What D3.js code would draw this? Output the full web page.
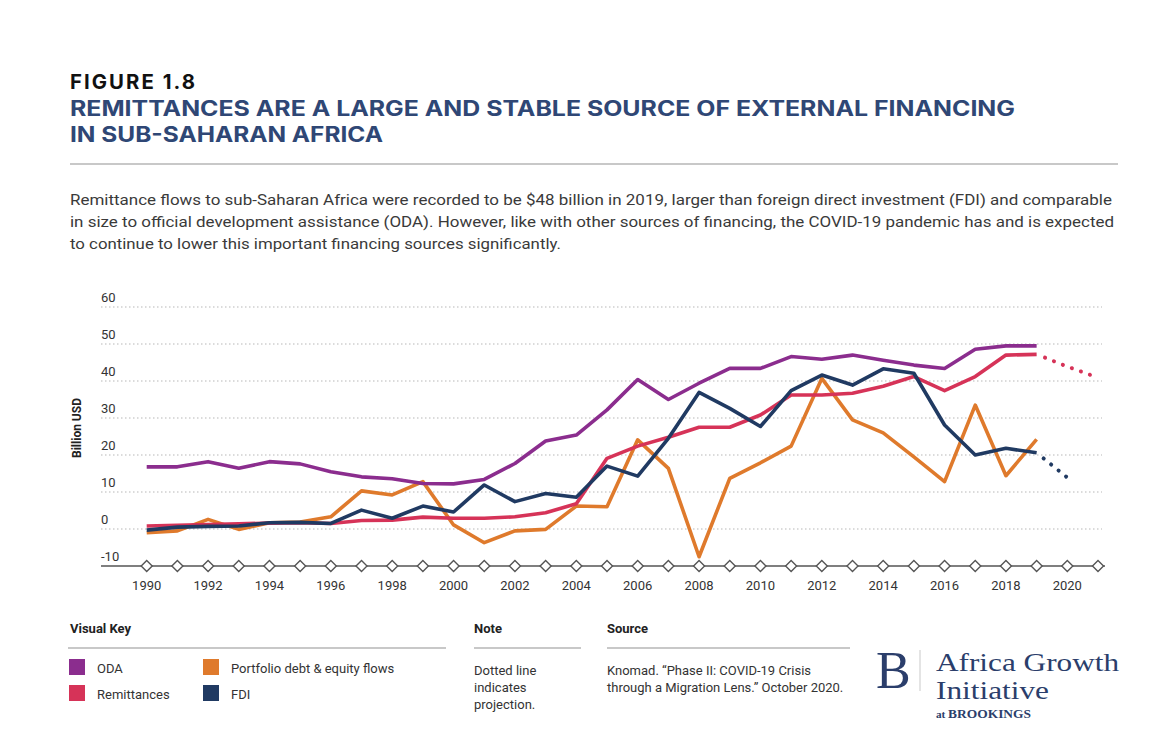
<!DOCTYPE html>
<html>
<head>
<meta charset="utf-8">
<script src="https://cdn.jsdelivr.net/npm/d3@7"></script>
<style>
  body { margin: 0; background: #fff; }
  svg { display: block; }
  text { font-family: Roboto, "Noto Sans", sans-serif; }
</style>
</head>
<body>
<div id="chart"></div>
<script>
// values (billion USD)
var years = [1990, 1991, 1992, 1993, 1994, 1995, 1996, 1997, 1998, 1999,
  2000, 2001, 2002, 2003, 2004, 2005, 2006, 2007, 2008, 2009,
  2010, 2011, 2012, 2013, 2014, 2015, 2016, 2017, 2018, 2019];
var axisYears = [1990, 1991, 1992, 1993, 1994, 1995, 1996, 1997, 1998, 1999,
  2000, 2001, 2002, 2003, 2004, 2005, 2006, 2007, 2008, 2009,
  2010, 2011, 2012, 2013, 2014, 2015, 2016, 2017, 2018, 2019, 2020, 2021];
var tickYears = [1990, 1992, 1994, 1996, 1998, 2000, 2002, 2004, 2006, 2008,
  2010, 2012, 2014, 2016, 2018, 2020];
var yTicks = [-10, 0, 10, 20, 30, 40, 50, 60];

var oda = [16.8, 16.8, 18.2, 16.4, 18.2, 17.6, 15.5, 14.1, 13.6, 12.3,
  12.2, 13.4, 17.7, 23.8, 25.4, 32.2, 40.4, 35.0, 39.4, 43.4,
  43.4, 46.6, 45.9, 47.0, 45.6, 44.3, 43.4, 48.6, 49.5, 49.5];
var remittances = [0.8, 1.0, 1.2, 1.4, 1.6, 1.7, 1.5, 2.3, 2.4, 3.2,
  2.9, 2.9, 3.3, 4.4, 6.8, 19.1, 22.4, 24.8, 27.5, 27.5,
  30.8, 36.2, 36.2, 36.7, 38.6, 41.2, 37.4, 41.2, 47.0, 47.2];
var portfolio = [-1.0, -0.5, 2.6, -0.1, 1.7, 1.9, 3.3, 10.3, 9.2, 12.8,
  1.1, -3.7, -0.5, -0.1, 6.2, 6.0, 24.1, 16.4, -7.5, 13.7,
  17.9, 22.4, 40.7, 29.5, 26.0, 19.5, 12.8, 33.5, 14.4, 24.2];
var fdi = [-0.3, 0.5, 0.7, 0.8, 1.7, 1.8, 1.5, 5.1, 2.9, 6.2,
  4.6, 11.9, 7.4, 9.6, 8.6, 17.0, 14.3, 24.5, 36.9, 32.6,
  27.7, 37.4, 41.6, 38.9, 43.3, 42.1, 28.1, 20.0, 21.8, 20.6];

// projections (dotted)
var remitProjYears = [2019, 2020, 2021];
var remitProj = [47.2, 43.9, 40.9];
var fdiProjYears = [2019, 2020];
var fdiProj = [20.6, 13.9];

var colors = { "ODA": "#8b2d8e", "Remittances": "#d63358", "Portfolio debt & equity flows": "#df7a2c", "FDI": "#203a62" };

var width = 1172, height = 754;
var svg = d3.select("#chart").append("svg").attr("width", width).attr("height", height);

function addText(x, y, str, opts) {
  var t = svg.append("text").attr("x", x).attr("y", y).text(str)
    .attr("font-size", opts.size || 13)
    .attr("fill", opts.fill || "#333")
    .attr("font-weight", opts.weight || 400);
  if (opts.family) t.style("font-family", opts.family);
  if (opts.len) t.attr("textLength", opts.len).attr("lengthAdjust", "spacingAndGlyphs");
  if (opts.ls) t.attr("letter-spacing", opts.ls);
  if (opts.anchor) t.attr("text-anchor", opts.anchor);
  return t;
}

// header
addText(70, 89, "FIGURE 1.8", { size: 20, weight: 700, fill: "#111", len: 127, ls: 2, family: "Inter, Roboto, sans-serif" });
addText(70, 116, "REMITTANCES ARE A LARGE AND STABLE SOURCE OF EXTERNAL FINANCING", { size: 21, weight: 700, fill: "#2f4775", len: 945, family: "Inter, Roboto, sans-serif" });
addText(70, 142, "IN SUB-SAHARAN AFRICA", { size: 21, weight: 700, fill: "#2f4775", len: 313, family: "Inter, Roboto, sans-serif" });

svg.append("line").attr("x1", 70).attr("x2", 1118).attr("y1", 164).attr("y2", 164)
  .attr("stroke", "#c8c8c8").attr("stroke-width", 2);

addText(70, 205, "Remittance flows to sub-Saharan Africa were recorded to be $48 billion in 2019, larger than foreign direct investment (FDI) and comparable", { size: 15.5, fill: "#3a3a3a", len: 1042 });
addText(70, 227, "in size to official development assistance (ODA). However, like with other sources of financing, the COVID-19 pandemic has and is expected", { size: 15.5, fill: "#3a3a3a", len: 1044 });
addText(70, 249, "to continue to lower this important financing sources significantly.", { size: 15.5, fill: "#3a3a3a", len: 491 });

// scales
var x = d3.scaleLinear().domain([1990, 2021]).range([146.7, 1098]);
var y = d3.scaleLinear().domain([-10, 60]).range([566, 307]);

// gridlines
svg.append("g").selectAll("line").data(yTicks.filter(function (d) { return d > -10; }))
  .join("line")
  .attr("x1", 101).attr("x2", 1102)
  .attr("y1", function (d) { return y(d); }).attr("y2", function (d) { return y(d); })
  .attr("stroke", "#cfcfcf").attr("stroke-width", 1.3).attr("stroke-dasharray", "1.5 2.5");

// y labels sit above their gridline
svg.append("g").selectAll("text").data(yTicks).join("text")
  .attr("x", 101).attr("y", function (d) { return y(d) - 5; })
  .attr("font-size", 13).attr("fill", "#333")
  .text(function (d) { return d; });

addText(0, 0, "Billion USD", { size: 12, weight: 700, fill: "#222", anchor: "middle" })
  .attr("transform", "translate(81,428) rotate(-90)");

// x axis with diamond markers
svg.append("line").attr("x1", 101).attr("x2", 1105).attr("y1", y(-10)).attr("y2", y(-10))
  .attr("stroke", "#555").attr("stroke-width", 1.4);
svg.append("g").selectAll("path").data(axisYears).join("path")
  .attr("d", "M0,-5.5L5.5,0L0,5.5L-5.5,0Z")
  .attr("transform", function (d) { return "translate(" + x(d) + "," + y(-10) + ")"; })
  .attr("fill", "#fff").attr("stroke", "#555").attr("stroke-width", 1.4);
svg.append("g").selectAll("text").data(tickYears).join("text")
  .attr("x", function (d) { return x(d); }).attr("y", 590)
  .attr("text-anchor", "middle").attr("font-size", 13).attr("fill", "#333")
  .text(function (d) { return d; });

// lines
var line = d3.line().x(function (d) { return x(d[0]); }).y(function (d) { return y(d[1]); });
var series = [
  { name: "Portfolio debt & equity flows", values: portfolio },
  { name: "Remittances", values: remittances },
  { name: "FDI", values: fdi },
  { name: "ODA", values: oda }
];
svg.append("g").selectAll("path").data(series).join("path")
  .attr("d", function (s) { return line(d3.zip(years, s.values)); })
  .attr("fill", "none")
  .attr("stroke", function (s) { return colors[s.name]; })
  .attr("stroke-width", 3.6).attr("stroke-linejoin", "round");

var proj = [
  { name: "Remittances", values: d3.zip(remitProjYears, remitProj) },
  { name: "FDI", values: d3.zip(fdiProjYears, fdiProj) }
];
svg.append("g").selectAll("path").data(proj).join("path")
  .attr("d", function (s) { return line(s.values); })
  .attr("fill", "none")
  .attr("stroke", function (s) { return colors[s.name]; })
  .attr("stroke-width", 4).attr("stroke-linecap", "round")
  .attr("stroke-dasharray", "0.1 9.5").attr("stroke-dashoffset", -9);

// footer: visual key
addText(70, 633, "Visual Key", { size: 13, weight: 700, fill: "#222" });
addText(474, 633, "Note", { size: 13, weight: 700, fill: "#222" });
addText(607, 633, "Source", { size: 13, weight: 700, fill: "#222" });
[[68, 446], [474, 581], [607, 850]].forEach(function (r) {
  svg.append("line").attr("x1", r[0]).attr("x2", r[1]).attr("y1", 648).attr("y2", 648)
    .attr("stroke", "#c8c8c8").attr("stroke-width", 2);
});

var keyPos = [[69, 659], [69, 685], [203, 659], [203, 685]];
var keyOrder = ["ODA", "Remittances", "Portfolio debt & equity flows", "FDI"];
var key = svg.append("g").selectAll("g").data(keyOrder).join("g")
  .attr("transform", function (d, i) { return "translate(" + keyPos[i][0] + "," + keyPos[i][1] + ")"; });
key.append("rect").attr("width", 16).attr("height", 16)
  .attr("fill", function (d) { return colors[d]; });
key.append("text").attr("x", 28).attr("y", 14).attr("font-size", 13).attr("fill", "#333")
  .text(function (d) { return d; });

addText(474, 675, "Dotted line", { size: 13 });
addText(474, 692, "indicates", { size: 13 });
addText(474, 709, "projection.", { size: 13 });

addText(607, 675, "Knomad. \u201CPhase II: COVID-19 Crisis", { size: 13 });
addText(607, 692, "through a Migration Lens.\u201D October 2020.", { size: 13 });

// logo
var serif = "'Liberation Serif', 'DejaVu Serif', serif";
addText(876, 688, "B", { size: 52, fill: "#2b3e6b", family: serif });
svg.append("line").attr("x1", 920).attr("x2", 920).attr("y1", 650).attr("y2", 691)
  .attr("stroke", "#c9c9c9").attr("stroke-width", 1);
addText(936, 671, "Africa Growth", { size: 24.5, fill: "#2b3e6b", family: serif, len: 183 });
addText(936, 698.5, "Initiative", { size: 24.5, fill: "#2b3e6b", family: serif, len: 113 });
var at = addText(936, 718, "", { size: 12, fill: "#2b3e6b", family: serif, weight: 700 });
at.append("tspan").attr("font-size", 10).text("at ");
at.append("tspan").text("BROOKINGS");
at.attr("textLength", 95).attr("lengthAdjust", "spacingAndGlyphs");
</script>
</body>
</html>
